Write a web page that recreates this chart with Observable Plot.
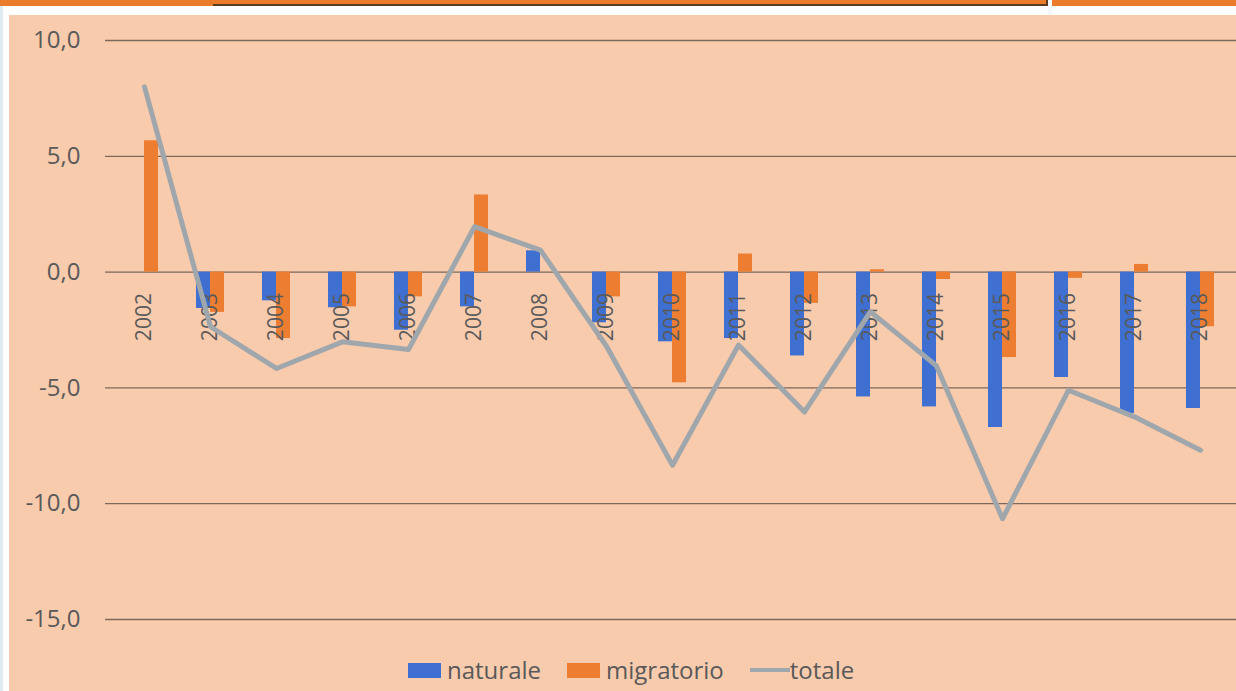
<!DOCTYPE html>
<html><head><meta charset="utf-8">
<script src="https://cdn.jsdelivr.net/npm/d3@7"></script>
<script src="https://cdn.jsdelivr.net/npm/@observablehq/plot@0.6"></script>
<style>
html,body{margin:0;padding:0;background:#fff;}
#page{position:relative;width:1236px;height:691px;overflow:hidden;background:#fff;font-family:"Open Sans",sans-serif;}
#topbar{position:absolute;left:0;top:0;width:1236px;height:6px;background:#E97B2B;}
#topbox{position:absolute;left:213px;top:0;width:833px;height:4px;background:#E97B2B;border-bottom:2px solid #5b3b22;border-right:2px solid #5b3b22;}
#gap{position:absolute;left:1048px;top:0;width:4px;height:15px;background:#f4f8fb;}
#leftline{position:absolute;left:0;top:6px;width:3px;height:685px;background:#dfeaf2;}
#panel{position:absolute;left:9px;top:15px;width:1227px;height:676px;background:#F8CBAD;}
#chart svg{display:block;}
#legend{position:absolute;left:399px;top:640px;height:30px;display:flex;align-items:center;font-size:24px;color:#595959;line-height:1;white-space:nowrap;}
.item{display:flex;align-items:center;}
</style></head><body>
<div id="page">
  <div id="topbar"></div><div id="topbox"></div><div id="gap"></div>
  <div id="leftline"></div>
  <div id="panel"><div id="chart"></div><div id="legend"></div></div>
</div>
<script>
const years = ["2002","2003","2004","2005","2006","2007","2008","2009","2010","2011","2012","2013","2014","2015","2016","2017","2018"];
const naturale = [0, -1.57, -1.24, -1.54, -2.51, -1.50, 0.92, -2.19, -3.01, -2.87, -3.62, -5.39, -5.82, -6.71, -4.55, -6.11, -5.89];
const migratorio = [5.67, -1.74, -2.87, -1.50, -1.07, 3.33, 0, -1.07, -4.78, 0.78, -1.35, 0.10, -0.32, -3.69, -0.27, 0.33, -2.36];
const totale = [8.0, -2.36, -4.16, -3.01, -3.34, 1.96, 0.95, -3.2, -8.34, -3.15, -6.04, -1.71, -4.05, -10.65, -5.10, -6.25, -7.69];
const yTicks = [10, 5, 0, -5, -10, -15];
const seriesNames = ["naturale", "migratorio", "totale"];
const colors = {naturale: "#3F6FD0", migratorio: "#ED7D31", totale: "#A0A7AC"};

const natData = years.map((y, i) => ({year: y, v: naturale[i]}));
const migData = years.map((y, i) => ({year: y, v: migratorio[i]}));
const totData = years.map((y, i) => ({year: y, v: totale[i]}));
const fmt = d => d.toFixed(1).replace(".", ",");

const chart = Plot.plot({
  width: 1227,
  height: 625,
  marginLeft: 99,
  marginRight: 0,
  marginTop: 25,
  marginBottom: 21,
  style: {background: "transparent", fontFamily: "'Open Sans', sans-serif"},
  x: {type: "band", domain: years, paddingInner: 0.578, paddingOuter: 0.289, axis: null},
  y: {domain: [-15, 10], axis: null},
  marks: [
    Plot.ruleY(yTicks, {stroke: "#7d685c", strokeWidth: 1.3, insetLeft: -3}),
    Plot.axisY({ticks: yTicks, tickSize: 0, tickPadding: 28, tickFormat: fmt, fontSize: 24, fill: "#595959", label: null}),
    Plot.barY(natData, {x: "year", y: "v", fill: colors.naturale, insetRight: 14}),
    Plot.barY(migData, {x: "year", y: "v", fill: colors.migratorio, insetLeft: 14}),
    Plot.text(years, {x: d => d, y: d => 0, text: d => d, rotate: -90, textAnchor: "end", dy: 21, fontSize: 21, fill: "#5a5a5a"}),
    Plot.line(totData, {x: "year", y: "v", stroke: colors.totale, strokeWidth: 5, strokeLinejoin: "round", strokeLinecap: "round"})
  ]
});
document.getElementById("chart").appendChild(chart);

const legend = document.getElementById("legend");
seriesNames.forEach((name, i) => {
  const item = document.createElement("div");
  item.className = "item";
  if (i > 0) item.style.marginLeft = "26px";
  const sw = document.createElement("span");
  sw.style.display = "inline-block";
  if (name === "totale") {
    sw.style.width = "40px"; sw.style.height = "4px"; sw.style.marginRight = "0px";
  } else {
    sw.style.width = "33px"; sw.style.height = "15px"; sw.style.marginRight = "6px";
  }
  sw.style.background = colors[name];
  const tx = document.createElement("span");
  tx.textContent = name;
  item.appendChild(sw); item.appendChild(tx);
  legend.appendChild(item);
});
</script>
</body></html>
